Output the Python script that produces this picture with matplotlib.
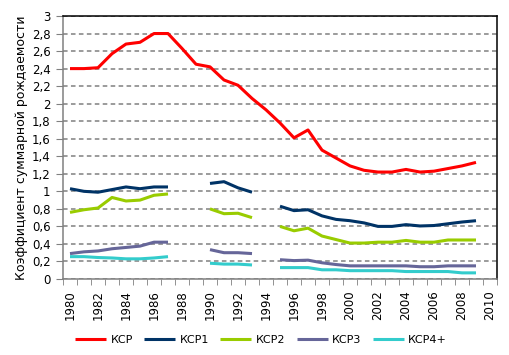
import numpy as np
import matplotlib
matplotlib.use('Agg')
import matplotlib.pyplot as plt
from matplotlib.ticker import FuncFormatter, MultipleLocator

years = list(range(1980, 2010))
nan = np.nan

# values, gaps where the source has no data
ksr = [2.40, 2.40, 2.41, 2.57, 2.68, 2.70, 2.80, 2.80, 2.63, 2.45,
       2.42, 2.27, 2.21, 2.06, 1.93, 1.78, 1.61, 1.70, 1.47, 1.38,
       1.29, 1.24, 1.22, 1.22, 1.25, 1.22, 1.23, 1.26, 1.29, 1.33]
ksr1 = [1.03, 1.00, 0.99, 1.02, 1.05, 1.03, 1.05, 1.05, nan, nan,
        1.09, 1.11, 1.04, 0.99, nan, 0.83, 0.78, 0.79, 0.72, 0.68,
        0.665, 0.64, 0.60, 0.60, 0.62, 0.605, 0.61, 0.63, 0.65, 0.665]
ksr2 = [0.76, 0.79, 0.81, 0.93, 0.89, 0.90, 0.955, 0.97, nan, nan,
        0.80, 0.745, 0.75, 0.70, nan, 0.60, 0.55, 0.58, 0.49, 0.45,
        0.41, 0.41, 0.42, 0.42, 0.44, 0.42, 0.42, 0.445, 0.445, 0.445]
ksr3 = [0.29, 0.31, 0.32, 0.345, 0.36, 0.375, 0.42, 0.42, nan, nan,
        0.335, 0.30, 0.30, 0.29, nan, 0.22, 0.21, 0.215, 0.185, 0.165,
        0.15, 0.15, 0.15, 0.15, 0.15, 0.14, 0.14, 0.15, 0.15, 0.15]
ksr4 = [0.255, 0.255, 0.245, 0.24, 0.23, 0.23, 0.24, 0.255, nan, nan,
        0.18, 0.17, 0.17, 0.16, nan, 0.13, 0.13, 0.13, 0.105, 0.105,
        0.095, 0.095, 0.095, 0.095, 0.085, 0.085, 0.085, 0.085, 0.07, 0.07]

series = [("КСР", ksr, "#FF0000"),
          ("КСР1", ksr1, "#003366"),
          ("КСР2", ksr2, "#99CC00"),
          ("КСР3", ksr3, "#666699"),
          ("КСР4+", ksr4, "#33CCCC")]

plt.rcParams['font.family'] = ['DejaVu Sans']

fig = plt.figure(figsize=(5.1, 3.55), dpi=100)
ax = fig.add_axes([63 / 510, 1 - 279 / 355, 434 / 510, 263 / 355])

for name, vals, col in series:
    ax.plot(years, vals, color=col, linewidth=2.2, label=name, solid_capstyle='butt')

ax.set_xlim(1979.5, 2010.5)
ax.set_ylim(0, 3)

# y axis
ax.yaxis.set_major_locator(MultipleLocator(0.2))
ax.yaxis.set_major_formatter(FuncFormatter(
    lambda v, p: "0" if abs(v) < 1e-9 else ("%g" % round(v, 1)).replace('.', ',')))
ax.grid(axis='y', color='#808080', linestyle=(0, (3, 2.2)), linewidth=1.1)
ax.set_axisbelow(True)
ax.tick_params(axis='y', length=5, color='#808080', labelsize=8.5, pad=4)

# x axis: ticks between categories, labels every second year
ax.set_xticks([y for y in range(1980, 2011, 2)])
ax.set_xticklabels([str(y) for y in range(1980, 2011, 2)], rotation=90)
ax.set_xticks(np.arange(1979.5, 2011, 1), minor=True)
ax.tick_params(axis='x', which='major', length=0, labelsize=8.5, pad=8)
ax.tick_params(axis='x', which='minor', length=4, color='#808080')

for s in ['left', 'bottom']:
    ax.spines[s].set_color('#808080')
    ax.spines[s].set_linewidth(1.1)
for s in ['top', 'right']:
    ax.spines[s].set_color('black')
    ax.spines[s].set_linewidth(1.1)

ax.set_ylabel("Коэффициент суммарной рождаемости", fontsize=9, labelpad=3)

fig.legend(loc='lower center', bbox_to_anchor=(0.512, 0.0), ncol=5, frameon=False,
           fontsize=8, handlelength=2.8, columnspacing=1.0, handletextpad=0.4)

fig.savefig('out.png', dpi=100)
